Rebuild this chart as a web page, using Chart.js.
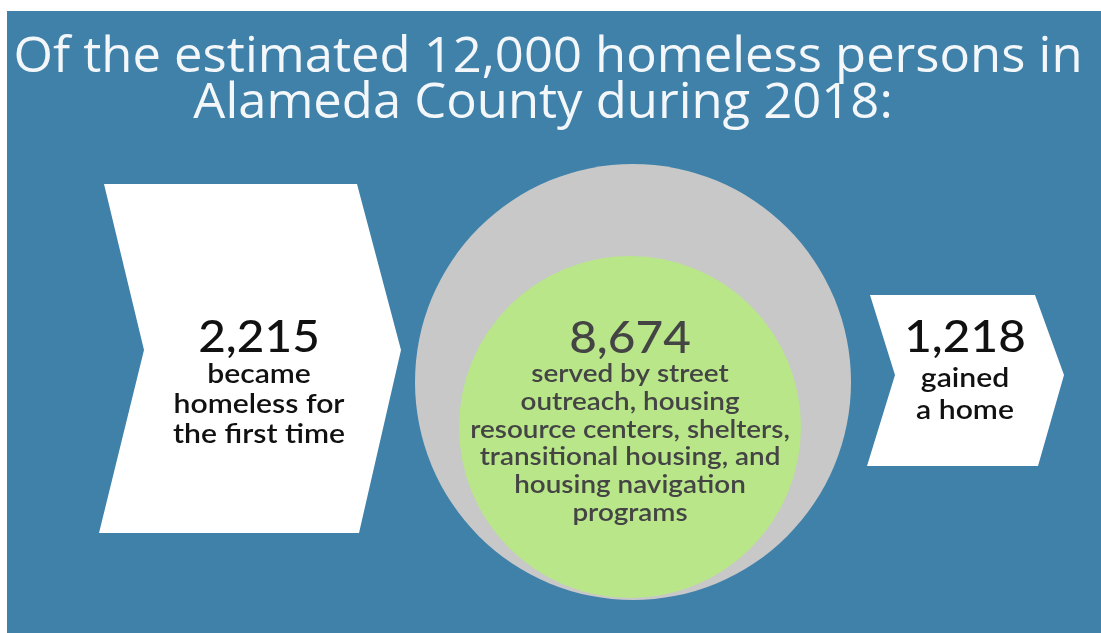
<!DOCTYPE html>
<html lang="en">

<head>
    <meta charset="UTF-8">
    <title>Homelessness in Alameda County 2018</title>
    <script src="https://cdn.jsdelivr.net/npm/chart.js"></script>
    <style>
        html, body {
            margin: 0;
            padding: 0;
            background-color: #ffffff;
            overflow: hidden;
        }

        .wrap {
            position: relative;
            width: 1101px;
            height: 633px;
        }
    </style>
</head>

<body>
    <div class="wrap">
        <canvas id="flowChart"></canvas>
    </div>

    <script>
        const totalHomeless = 12000;
        const countyName = 'Alameda County';
        const reportYear = 2018;
        const stageCounts = [2215, 8674, 1218];
        const stageLabels = [
            ['became', 'homeless for', 'the first time'],
            ['served by street', 'outreach, housing', 'resource centers, shelters,', 'transitional housing, and', 'housing navigation', 'programs'],
            ['gained', 'a home']
        ];

        const fmt = n => n.toLocaleString('en-US');
        const titleLines = [
            'Of the estimated ' + fmt(totalHomeless) + ' homeless persons in',
            countyName + ' during ' + reportYear + ':'
        ];

        // layout (picture units, 1 unit = 1px)
        const panel = { left: 7, top: 11, color: '#3f81a9' };
        const leftChevron = [[104, 184], [357, 184], [401, 350], [359, 533], [99, 533], [144, 350], [104, 184]];
        const rightChevron = [[870, 295], [1035, 295], [1064, 375], [1038, 466], [867, 466], [895, 375], [870, 295]];
        const outerCircle = { x: 633, y: 382, r: 218 };
        const innerCircle = { x: 630, y: 427, r: 171 };
        const textAnchors = [
            { x: 259, numY: 352, firstY: 383, step: 30, size: 26, color: '#111111' },
            { x: 630, numY: 353, firstY: 382, step: 27.8, size: 24, color: '#444444' },
            { x: 965, numY: 352, firstY: 387, step: 32, size: 26, color: '#111111' }
        ];
        const numFont = { size: 45, stretch: 1.06 };
        const labelStretch = 1.16;

        const toPts = arr => arr.map(p => ({ x: p[0], y: p[1] }));

        // fillText with a horizontal stretch around the anchor
        function wideText(c, text, x, y, sx) {
            c.save();
            c.translate(x, y);
            c.scale(sx, 1);
            c.fillText(text, 0, 0);
            c.restore();
        }

        const textPlugin = {
            id: 'infoText',
            beforeDraw(chart) {
                const c = chart.ctx;
                c.save();
                c.fillStyle = panel.color;
                c.fillRect(panel.left, panel.top, chart.width - panel.left, chart.height - panel.top);
                c.restore();
            },
            afterDatasetsDraw(chart) {
                const c = chart.ctx;
                const xs = chart.scales.x, ys = chart.scales.y;
                c.save();
                c.textAlign = 'center';
                c.textBaseline = 'alphabetic';

                // title, stretched to the width of the original lettering
                c.fillStyle = '#f4f7fa';
                c.font = '400 49px "Open Sans"';
                const sx = 1069 / c.measureText(titleLines[0]).width;
                [[548, 72], [543, 118]].forEach((pos, i) => {
                    wideText(c, titleLines[i], xs.getPixelForValue(pos[0]), ys.getPixelForValue(pos[1]), sx);
                });

                // counts and descriptions
                stageCounts.forEach((n, i) => {
                    const a = textAnchors[i];
                    const px = xs.getPixelForValue(a.x);
                    c.fillStyle = a.color;
                    c.font = '500 ' + numFont.size + 'px Lato';
                    wideText(c, fmt(n), px, ys.getPixelForValue(a.numY), numFont.stretch);
                    c.font = '600 ' + a.size + 'px Lato';
                    stageLabels[i].forEach((line, j) => {
                        wideText(c, line, px, ys.getPixelForValue(a.firstY + j * a.step), labelStretch);
                    });
                });
                c.restore();
            }
        };

        const ctx = document.getElementById('flowChart').getContext('2d');
        const flowChart = new Chart(ctx, {
            type: 'bubble',
            data: {
                datasets: [
                    {
                        type: 'line',
                        data: toPts(leftChevron),
                        borderWidth: 0,
                        borderColor: 'rgba(0,0,0,0)',
                        backgroundColor: '#ffffff',
                        fill: 'shape',
                        pointRadius: 0,
                        tension: 0,
                        order: 3
                    },
                    {
                        type: 'line',
                        data: toPts(rightChevron),
                        borderWidth: 0,
                        borderColor: 'rgba(0,0,0,0)',
                        backgroundColor: '#ffffff',
                        fill: 'shape',
                        pointRadius: 0,
                        tension: 0,
                        order: 3
                    },
                    {
                        data: [outerCircle],
                        backgroundColor: '#c8c8c8',
                        borderWidth: 0,
                        order: 2
                    },
                    {
                        data: [innerCircle],
                        backgroundColor: '#b8e689',
                        borderWidth: 0,
                        order: 1
                    }
                ]
            },
            options: {
                responsive: true,
                maintainAspectRatio: false,
                animation: false,
                events: [],
                layout: { padding: 0, autoPadding: false },
                clip: false,
                scales: {
                    x: { type: 'linear', min: 0, max: 1101, display: false },
                    y: { type: 'linear', min: 0, max: 633, reverse: true, display: false }
                },
                plugins: {
                    legend: { display: false },
                    tooltip: { enabled: false },
                    title: { display: false }
                }
            },
            plugins: [textPlugin]
        });
    </script>
</body>

</html>
